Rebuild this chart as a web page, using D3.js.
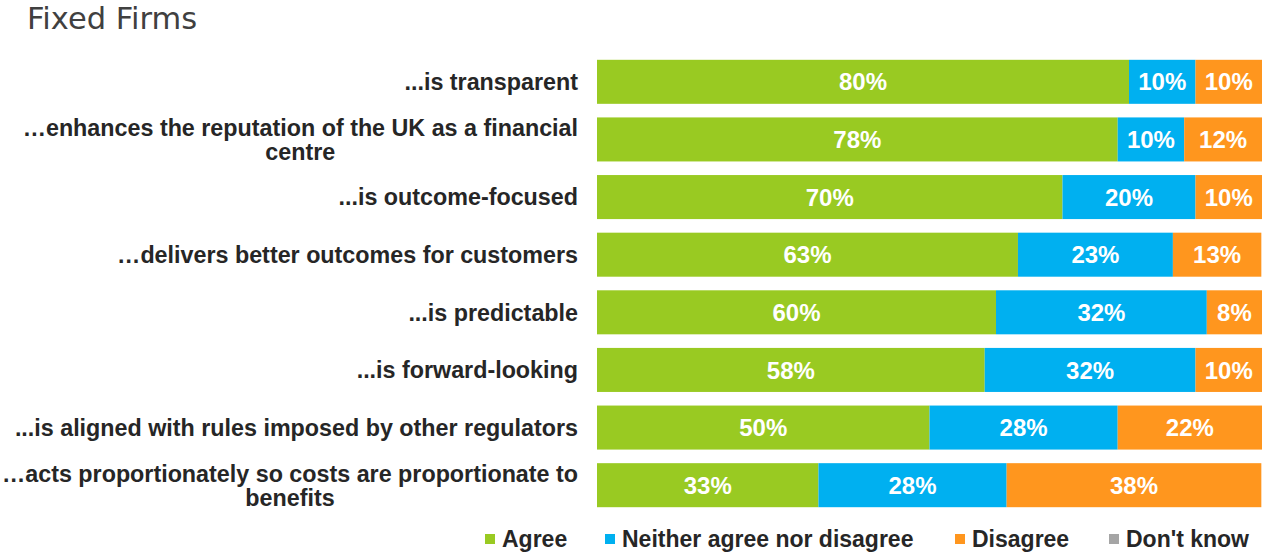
<!DOCTYPE html>
<html>
<head>
<meta charset="utf-8">
<script src="https://cdn.jsdelivr.net/npm/d3@7"></script>
<style>
  body { margin: 0; background: #fff; }
  svg { display: block; }
</style>
</head>
<body>
<div class="chart"></div>
<script>
// survey statements, top to bottom (\n = line break in the label)
var categories = [
  "...is transparent",
  "\u2026enhances the reputation of the UK as a financial\ncentre",
  "...is outcome-focused",
  "\u2026delivers better outcomes for customers",
  "...is predictable",
  "...is forward-looking",
  "...is aligned with rules imposed by other regulators",
  "\u2026acts proportionately so costs are proportionate to\nbenefits"
];
var seriesNames = ["Agree", "Neither agree nor disagree", "Disagree", "Don't know"];
var agree    = [80, 78.3, 70, 63.3, 60, 58.3, 50, 33.3];
var neither  = [10, 10, 20, 23.3, 31.7, 31.7, 28.3, 28.3];
var disagree = [10, 11.7, 10, 13.3, 8.3, 10, 21.7, 38.3];
var dontKnow = [0, 0, 0, 0, 0, 0, 0, 0];
var colors = ["#99CA22", "#00B0F0", "#FF961E", "#A5A5A5"];

var W = 1263, H = 553;
var svg = d3.select(".chart").append("svg")
    .attr("width", W)
    .attr("height", H);

// title
svg.append("text")
    .attr("x", 27)
    .attr("y", 29)
    .style("font-family", "'DejaVu Sans', Verdana, sans-serif")
    .style("font-size", "30.5px")
    .style("fill", "#404040")
    .text("Fixed Firms");

// build rows for stacking
var rows = categories.map(function(c, i) {
    return { cat: c, "Agree": agree[i], "Neither agree nor disagree": neither[i],
             "Disagree": disagree[i], "Don't know": dontKnow[i] };
});
var stacked = d3.stack().keys(seriesNames)(rows);

var x = d3.scaleLinear().domain([0, 100]).range([597, 1262]);
var y = d3.scaleBand().domain(categories).range([53, 514])
    .paddingInner(0.236).paddingOuter(0.118);
var color = d3.scaleOrdinal().domain(seriesNames).range(colors);

var layer = svg.selectAll("g.layer")
    .data(stacked)
    .enter()
    .append("g")
    .attr("class", "layer")
    .attr("fill", function(d) { return color(d.key); });

layer.selectAll("rect")
    .data(function(d) { return d; })
    .enter()
    .append("rect")
    .attr("x", function(d) { return x(d[0]); })
    .attr("y", function(d) { return y(d.data.cat); })
    .attr("width", function(d) { return x(d[1]) - x(d[0]); })
    .attr("height", y.bandwidth());

// value labels
layer.selectAll("text")
    .data(function(d) { return d.filter(function(v) { return v[1] - v[0] > 0; }); })
    .enter()
    .append("text")
    .attr("x", function(d) { return (x(d[0]) + x(d[1])) / 2; })
    .attr("y", function(d) { return y(d.data.cat) + y.bandwidth() / 2; })
    .attr("dy", "0.36em")
    .style("text-anchor", "middle")
    .style("font-family", "'Liberation Sans', Arial, sans-serif")
    .style("font-weight", "bold")
    .style("font-size", "24px")
    .style("fill", "#fff")
    .text(function(d) { return Math.round(d[1] - d[0]) + "%"; });

// category labels (block right aligned, lines centred)
var labelRight = 578, lineH = 24;
categories.forEach(function(c) {
    var lines = c.split("\n");
    var g = svg.append("g");
    var cy = y(c) + y.bandwidth() / 2;
    var texts = lines.map(function(line, j) {
        return g.append("text")
            .attr("y", cy + (j - (lines.length - 1) / 2) * lineH)
            .attr("dy", "0.36em")
            .style("text-anchor", "middle")
            .style("font-family", "'Liberation Sans', Arial, sans-serif")
            .style("font-weight", "bold")
            .style("font-size", "23.3px")
            .style("fill", "#262626")
            .text(line);
    });
    var maxW = d3.max(texts, function(t) { return t.node().getComputedTextLength(); });
    texts.forEach(function(t) { t.attr("x", labelRight - maxW / 2); });
});

// legend
var legendX = [485, 605, 955, 1109];
var legend = svg.selectAll("g.legend")
    .data(seriesNames)
    .enter()
    .append("g")
    .attr("class", "legend")
    .attr("transform", function(d, i) { return "translate(" + legendX[i] + ",539)"; });
legend.append("rect")
    .attr("x", 0)
    .attr("y", -5)
    .attr("width", 10)
    .attr("height", 10)
    .attr("fill", function(d) { return color(d); });
legend.append("text")
    .attr("x", 17)
    .attr("dy", "0.36em")
    .style("font-family", "'Liberation Sans', Arial, sans-serif")
    .style("font-weight", "bold")
    .style("font-size", "23px")
    .style("fill", "#262626")
    .text(function(d) { return d; });
</script>
</body>
</html>
